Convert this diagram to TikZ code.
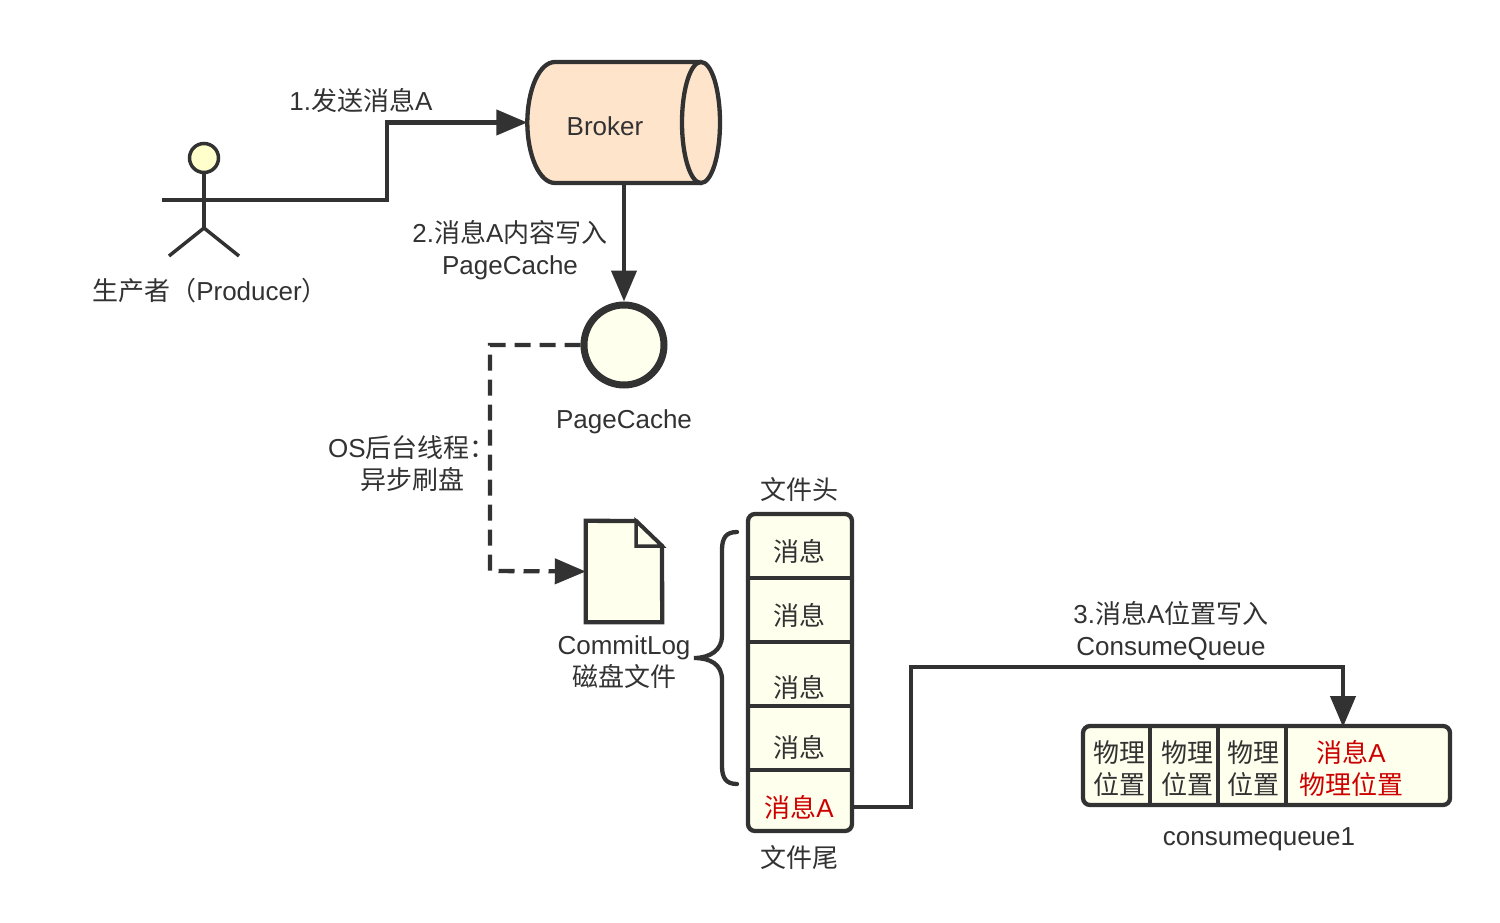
\documentclass[tikz,border=0pt]{standalone}
\usepackage{fontspec}
\setmainfont{Liberation Sans}
\newfontfamily\cjk{Noto Sans CJK SC}
\usetikzlibrary{arrows.meta}
\definecolor{inkgrey}{HTML}{323232}
\definecolor{paleyellow}{HTML}{FFFFEE}
\definecolor{headyellow}{HTML}{FFFFCC}
\definecolor{peach}{HTML}{FFE4CC}
\definecolor{msgred}{HTML}{CC0000}
\newcommand\cn[1]{{\cjk #1}}

\begin{document}
\begin{tikzpicture}[
    x=1pt,
    y=-1pt,
    outline/.style={
      draw=inkgrey,
      line width=4.3pt,
      fill=paleyellow,
    },
    link/.style={
      line width=4.3pt,
      color=inkgrey,
      -{Triangle[length=31pt,width=25pt]},
    },
    label/.style={
      inner sep=0,
      align=center,
      text=inkgrey,
      font=\fontsize{26}{32}\selectfont,
    },
    redlabel/.style={
      label,
      text=msgred,
    },
    divider/.style={
      line width=4.3pt,
      color=inkgrey,
    },
  ]
    \useasboundingbox (0,0) rectangle (1500,923);

    % producer
    \node[outline,circle,line width=3.5pt,fill=headyellow,minimum size=29pt,inner sep=0] (head) at (204,158) {};
    \coordinate (neck) at (204,200);
    \coordinate (hip) at (204,228);
    \draw[divider] (head) -- (hip);
    \draw[divider] (162,200) -- (neck);
    \draw[divider,line width=3.5pt] (169,256) -- (hip) -- (239,256);
    \node[label] (producerlabel) at (210,291) {\cn{生产者（}Producer\cn{）}};

    % broker
    \node[minimum width=193pt,minimum height=121pt,inner sep=0] (broker) at (624,122.5) {};
    \draw[outline,fill=peach] (701,62) -- (555,62)
      .. controls (539.5,62) and (527.5,89) .. (broker.west)
      .. controls (527.5,156) and (539.5,183) .. (555,183) -- (701,183);
    \draw[outline,fill=peach] (701,122.5) ellipse (19 and 60.5);
    \node[label] (brokerlabel) at (605,126) {Broker};
    \draw[link] (neck) -- (387,200) |- (broker.west);
    \node[label] (sendlabel) at (361,101) {1.\cn{发送消息}A};

    % page cache
    \node[outline,circle,line width=7pt,minimum size=80pt,inner sep=0] (page) at (624,345) {};
    \node[label] (pagelabel) at (624,422) {PageCache};
    \draw[link] (broker.south) -- (page.north);
    \node[label] (writelabel) at (510,250) {2.\cn{消息}A\cn{内容写入}\\PageCache};

    % commit log file
    \node[minimum width=76pt,minimum height=101pt,inner sep=0] (file) at (624,571.5) {};
    \draw[outline,line join=miter] (file.north west) -- (636,521) -- (662,546) -- (file.south east) -- (file.south west) -- cycle;
    \draw[outline,line join=miter,line width=3.5pt] (636,521) -- (636,546) -- (662,546) -- cycle;
    \node[label] (filelabel) at (624,662.5) {CommitLog\\\cn{磁盘文件}};
    \draw[link,dash pattern=on 16pt off 9pt] (page.west) -| (490,571) -- (file.west);
    \node[label] (flushlabel) at (412,464) {OS\cn{后台线程：}\\\cn{异步刷盘}};

    % brace
    \draw[divider,line cap=round] (737,532) .. controls (726,532) and (722,538) .. (722,550) -- (722,636)
      .. controls (722,650) and (710,658) .. (694,658)
      .. controls (710,658) and (722,664) .. (722,680) -- (722,766)
      .. controls (722,778) and (726,784) .. (737,784);

    % log stack
    \node[outline,rounded corners=7pt,minimum width=104pt,minimum height=317pt,inner sep=0] (stack) at (800,672.5) {};
    \foreach \y in {578,642,706,770}
      \draw[divider] (stack.west |- 0,\y) -- (stack.east |- 0,\y);
    \node[label] (msgone) at (799,551) {\cn{消息}};
    \node[label] (msgtwo) at (799,615) {\cn{消息}};
    \node[label] (msgthree) at (799,687) {\cn{消息}};
    \node[label] (msgfour) at (799,747) {\cn{消息}};
    \node[redlabel] (msgfive) at (799,807) {\cn{消息}A};
    \node[label] (headlabel) at (799,489.5) {\cn{文件头}};
    \node[label] (taillabel) at (799,857.5) {\cn{文件尾}};

    % consume queue
    \node[outline,rounded corners=7pt,minimum width=367pt,minimum height=79pt,inner sep=0] (queue) at (1266.5,765.5) {};
    \foreach \x in {1150,1218,1286}
      \draw[divider] (\x,0 |- queue.north) -- (\x,0 |- queue.south);
    \node[label] (slotone) at (1119,769) {\cn{物理}\\\cn{位置}};
    \node[label] (slottwo) at (1187,769) {\cn{物理}\\\cn{位置}};
    \node[label] (slotthree) at (1253,769) {\cn{物理}\\\cn{位置}};
    \node[redlabel] (slotfour) at (1351,768) {\cn{消息}A\\\cn{物理位置}};
    \node[label] (queuelabel) at (1259,839) {consumequeue1};

    \coordinate (tailout) at (stack.east |- 0,807);
    \coordinate (queuein) at (1343,727);
    \draw[link] (tailout) -- (911,807) |- (1343,667) -- (queuein);
    \node[label] (dispatchlabel) at (1171,631) {3.\cn{消息}A\cn{位置写入}\\ConsumeQueue};
\end{tikzpicture}
\end{document}
